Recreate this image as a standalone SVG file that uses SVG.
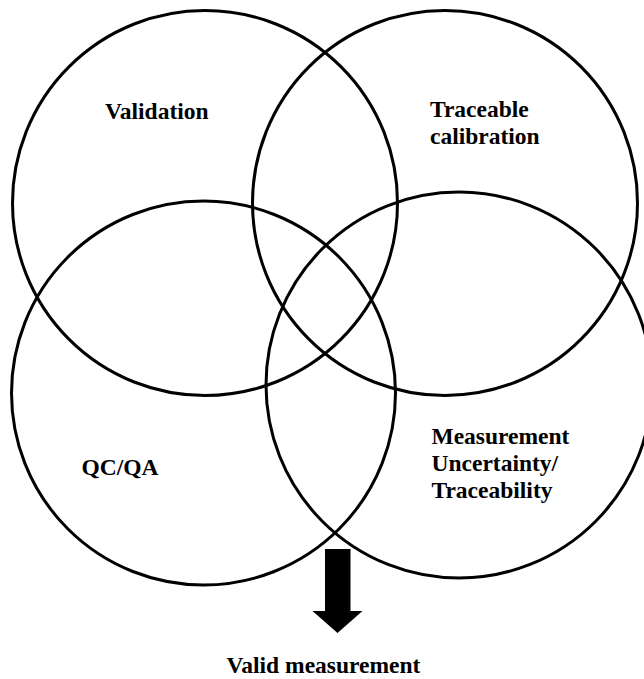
<svg xmlns="http://www.w3.org/2000/svg" width="644" height="679" viewBox="0 0 644 679">
<style>
.c{fill:none;stroke:#000;stroke-width:3}
.t{font-family:"Liberation Serif","Times New Roman",serif;font-weight:bold;font-size:23.5px;fill:#000}
</style>
<rect width="644" height="679" fill="#fff"/>
<g id="validation">
<circle class="c" cx="205" cy="203" r="192.5"/>
<text class="t" x="105" y="119">Validation</text>
</g>
<g id="traceable-calibration">
<circle class="c" cx="445" cy="203" r="192.5"/>
<text class="t" x="430" y="117">Traceable</text>
<text class="t" x="430" y="144">calibration</text>
</g>
<g id="qcqa">
<circle class="c" cx="203.5" cy="393" r="192"/>
<text class="t" x="81.5" y="475">QC/QA</text>
</g>
<g id="measurement-uncertainty">
<circle class="c" cx="459" cy="385" r="193"/>
<text class="t" x="431.5" y="444">Measurement</text>
<text class="t" x="431.5" y="471">Uncertainty/</text>
<text class="t" x="431.5" y="498">Traceability</text>
</g>
<g id="connectors">
<polygon points="325,549 350.5,549 350.5,611 362.5,611 337.5,633 312.5,611 325,611" fill="#000"/>
</g>
<g id="valid-measurement">
<text class="t" x="226.5" y="673">Valid measurement</text>
</g>
</svg>
